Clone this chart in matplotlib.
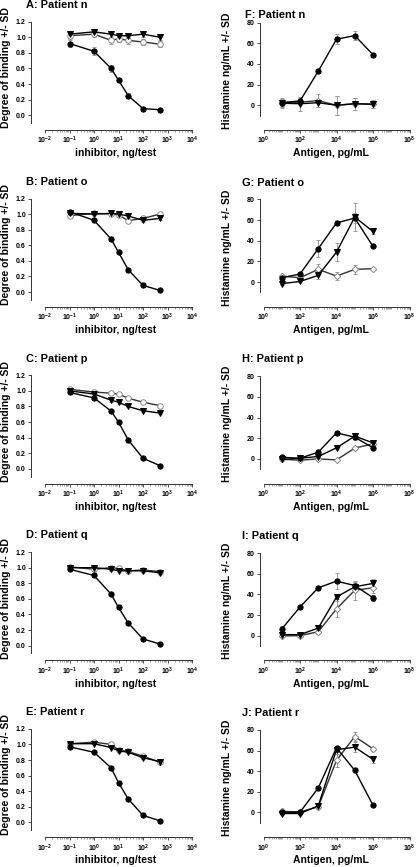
import matplotlib
matplotlib.use("Agg")
import matplotlib.pyplot as plt
from matplotlib.ticker import LogLocator, LogFormatterMathtext, NullFormatter, MultipleLocator, FormatStrFormatter

plt.rcParams['font.family'] = ['Liberation Sans', 'DejaVu Sans']
plt.rcParams['mathtext.fontset'] = 'custom'
plt.rcParams['mathtext.rm'] = 'Liberation Sans:bold'
plt.rcParams['mathtext.default'] = 'regular'

# ---------------- data ----------------
inhib_x = [0.1, 1, 5, 10, 25, 100, 500]
antigen_x = [1e1, 1e2, 1e3, 1e4, 1e5, 1e6]

left_titles = ["A: Patient n", "B: Patient o", "C: Patient p", "D: Patient q", "E: Patient r"]
right_titles = ["F: Patient n", "G: Patient o", "H: Patient p", "I: Patient q", "J: Patient r"]

# binding (left) -- circles (filled), triangles (filled), open
bind_circ = [
    [0.92, 0.82, 0.60, 0.45, 0.25, 0.085, 0.07],
    [1.03, 0.92, 0.68, 0.51, 0.285, 0.085, 0.02],
    [0.98, 0.91, 0.74, 0.60, 0.37, 0.135, 0.04],
    [0.98, 0.90, 0.66, 0.49, 0.29, 0.085, 0.02],
    [0.97, 0.90, 0.70, 0.51, 0.30, 0.09, 0.02],
]
bind_circ_sd = [
    [0.05, 0.05, 0.05, 0.03, 0.03, 0.02, 0.02],
    [0.02, 0.01, 0.01, 0.01, 0.01, 0.01, 0.01],
    [0.01, 0.01, 0.01, 0.01, 0.01, 0.01, 0.01],
    [0.01, 0.01, 0.01, 0.01, 0.01, 0.01, 0.01],
    [0.01, 0.01, 0.01, 0.01, 0.01, 0.01, 0.01],
]
bind_tri = [
    [1.04, 1.07, 1.04, 1.02, 1.02, 1.04, 1.00],
    [1.01, 1.00, 1.01, 1.00, 0.975, 0.92, 0.945],
    [1.00, 0.96, 0.88, 0.855, 0.80, 0.745, 0.715],
    [1.00, 1.00, 0.98, 0.96, 0.96, 0.96, 0.935],
    [1.01, 1.01, 0.96, 0.92, 0.90, 0.83, 0.78],
]
bind_tri_sd = [
    [0.04, 0.04, 0.04, 0.04, 0.04, 0.04, 0.04],
    [0.02, 0.01, 0.02, 0.02, 0.02, 0.02, 0.02],
    [0.01, 0.01, 0.02, 0.02, 0.01, 0.01, 0.01],
    [0.01, 0.02, 0.02, 0.01, 0.01, 0.01, 0.01],
    [0.02, 0.01, 0.01, 0.02, 0.01, 0.01, 0.01],
]
bind_open = [
    [1.02, 1.04, 0.96, 0.98, 0.96, 0.94, 0.91],
    [0.98, 1.01, 1.00, 0.99, 0.915, 0.945, 1.00],
    [1.02, 0.985, 0.97, 0.96, 0.905, 0.855, 0.81],
    [1.01, 0.98, 1.00, 0.99, 0.96, 0.97, 0.95],
    [1.01, 1.03, 1.00, 0.93, 0.91, 0.85, 0.77],
]
bind_open_sd = [
    [0.04, 0.04, 0.04, 0.04, 0.05, 0.04, 0.04],
    [0.02, 0.02, 0.02, 0.03, 0.02, 0.03, 0.02],
    [0.01, 0.01, 0.01, 0.01, 0.01, 0.01, 0.02],
    [0.02, 0.02, 0.02, 0.02, 0.02, 0.02, 0.02],
    [0.01, 0.01, 0.01, 0.02, 0.01, 0.01, 0.01],
]

# histamine (right)
hist_circ = [
    [2.6, 4.2, 33, 64, 67.5, 49],
    [4.2, 7.8, 32.4, 57.3, 62, 34.6],
    [1.6, 0.6, 6.5, 25.2, 21, 10.7],
    [6.4, 27.8, 46.4, 52.8, 48.6, 36.8],
    [0, 0.3, 23.8, 62.7, 40.8, 7],
]
hist_circ_sd = [
    [3, 3, 1.5, 5, 4, 1],
    [2, 1, 8, 2, 5, 1],
    [1, 1, 1, 2, 3, 1],
    [3, 2, 2, 8, 3, 3],
    [1, 1, 2, 2, 1, 1],
]
hist_tri = [
    [2, 1.5, 2.5, 0, 1.5, 1],
    [-1.5, 0.6, 6.5, 29, 63, 49],
    [-0.6, 0.6, 2.3, 10.7, 22, 15.5],
    [1, 1, 7.4, 37.4, 47.4, 50.6],
    [-1, -1, 6.4, 60.8, 63.3, 51.4],
]
hist_tri_sd = [
    [4, 7, 4, 9, 6, 4],
    [1, 1, 4, 9, 14, 2],
    [1, 1, 1, 1, 3, 1],
    [1, 1, 1, 2, 4, 4],
    [1, 1, 1, 2, 5, 3],
]
hist_open = [
    [2.5, 3, 4.5, 0, 1.5, 1],
    [5.8, 4.2, 12.3, 5.8, 12.3, 13],
    [-0.3, -1.3, 0, -1, 10.4, 14.6],
    [-0.3, 0, 3.8, 26, 44, 46.4],
    [1, 0.6, 5.5, 50.5, 73.6, 61.7],
]
hist_open_sd = [
    [5, 3, 6, 9, 6, 4],
    [1, 1, 5, 4, 4, 0.5],
    [1, 1, 1, 1, 2, 1],
    [1, 1, 2, 8, 9, 5],
    [1, 1, 2, 6, 4, 2],
]

# ---------------- layout ----------------
W, H = 416, 867
fig = plt.figure(figsize=(W / 100, H / 100), dpi=100)
fig.patch.set_facecolor('white')


def px_axes(left, top, width, height):
    return fig.add_axes([left / W, 1 - (top + height) / H, width / W, height / H])


def ftxt(x, y, s, **kw):
    fig.text(x / W, 1 - y / H, s, **kw)


TICKFS = 5.0
LABFS = 7.5
TITFS = 7.9
XLABFS = 7.5
SPINE = '#333333'
ECOL = '#9a9a9a'


def style_axes(ax, left_out, bottom_out):
    for sp in ['top', 'right']:
        ax.spines[sp].set_visible(False)
    ax.spines['left'].set_position(('outward', left_out))
    ax.spines['bottom'].set_position(('outward', bottom_out))
    for sp in ['left', 'bottom']:
        ax.spines[sp].set_color(SPINE)
        ax.spines[sp].set_linewidth(0.7)
    ax.tick_params(which='major', length=2.2, width=0.6, color=SPINE, pad=1.5,
                   labelsize=TICKFS)
    ax.tick_params(which='minor', length=1.2, width=0.5, color='#777777')
    ax.set_facecolor('none')
    for lab in ax.get_xticklabels() + ax.get_yticklabels():
        lab.set_fontweight('bold')


def draw_series(ax, x, y, sd, marker, mfc, mec, ms, lc):
    ax.errorbar(x, y, yerr=sd, fmt='none', ecolor=ECOL, elinewidth=0.7,
                capsize=1.6, capthick=0.7, zorder=2)
    ax.plot(x, y, color=lc, lw=1.0, marker=marker, ms=ms, mfc=mfc, mec=mec,
            mew=0.7, zorder=3, clip_on=False)


pitch = 176.8
for i in range(5):
    # ---- left: binding ----
    top = 21.7 + i * pitch
    axl = px_axes(45, top, 147, 101.3)
    axl.set_xscale('log')
    axl.set_xlim(1e-2, 1e4)
    axl.set_ylim(-0.1, 1.2)
    axl.yaxis.set_major_locator(MultipleLocator(0.2))
    axl.yaxis.set_major_formatter(FormatStrFormatter('%.1f'))
    axl.xaxis.set_major_locator(LogLocator(base=10, numticks=20))
    axl.xaxis.set_major_formatter(LogFormatterMathtext())
    axl.xaxis.set_minor_locator(LogLocator(base=10, subs=range(2, 10), numticks=20))
    axl.xaxis.set_minor_formatter(NullFormatter())
    draw_series(axl, inhib_x, bind_open[i], bind_open_sd[i], 'o', 'white', '#888888', 4.0, '#333333')
    draw_series(axl, inhib_x, bind_tri[i], bind_tri_sd[i], 'v', 'black', 'black', 3.8, 'black')
    draw_series(axl, inhib_x, bind_circ[i], bind_circ_sd[i], 'o', 'black', 'black', 3.8, 'black')
    style_axes(axl, 10.1, 5.0)
    axl.spines['left'].set_bounds(-0.1, 1.2)
    ftxt(25.5, top - 16.7, left_titles[i], fontsize=TITFS, fontweight='bold', va='center', ha='left')
    ftxt(6.5, top + 46, "Degree of binding +/- SD", fontsize=LABFS, fontweight='bold',
         rotation=90, va='center', ha='center')
    ftxt(116, top + 131.5, "inhibitor, ng/test", fontsize=XLABFS, fontweight='bold',
         va='center', ha='center')

    # ---- right: histamine ----
    topr = 22.7 + i * pitch
    axr = px_axes(263.5, topr, 146, 92.9)
    axr.set_xscale('log')
    axr.set_xlim(1e0, 1e8)
    axr.set_ylim(-10, 80)
    axr.yaxis.set_major_locator(MultipleLocator(20))
    axr.yaxis.set_major_formatter(FormatStrFormatter('%d'))
    axr.xaxis.set_major_locator(LogLocator(base=100, numticks=20))
    axr.xaxis.set_major_formatter(LogFormatterMathtext())
    axr.xaxis.set_minor_locator(LogLocator(base=10, subs=range(1, 10), numticks=30))
    axr.xaxis.set_minor_formatter(NullFormatter())
    draw_series(axr, antigen_x, hist_open[i], hist_open_sd[i], 'D', 'white', '#888888', 3.3, '#333333')
    draw_series(axr, antigen_x, hist_tri[i], hist_tri_sd[i], 'v', 'black', 'black', 3.8, 'black')
    draw_series(axr, antigen_x, hist_circ[i], hist_circ_sd[i], 'o', 'black', 'black', 3.8, 'black')
    style_axes(axr, 2.5, 10.4)
    axr.spines['left'].set_bounds(-10, 80)
    ty = 15 if i == 0 else topr - 16.8
    tx = 245 if i == 0 else 241.7
    ftxt(tx, ty, right_titles[i], fontsize=TITFS, fontweight='bold', va='center', ha='left')
    ftxt(227, topr + 48, "Histamine ng/mL +/- SD", fontsize=LABFS, fontweight='bold',
         rotation=90, va='center', ha='center')
    ftxt(331, topr + 130.5, "Antigen, pg/mL", fontsize=XLABFS, fontweight='bold',
         va='center', ha='center')

fig.savefig("out.png", dpi=100, facecolor='white')
